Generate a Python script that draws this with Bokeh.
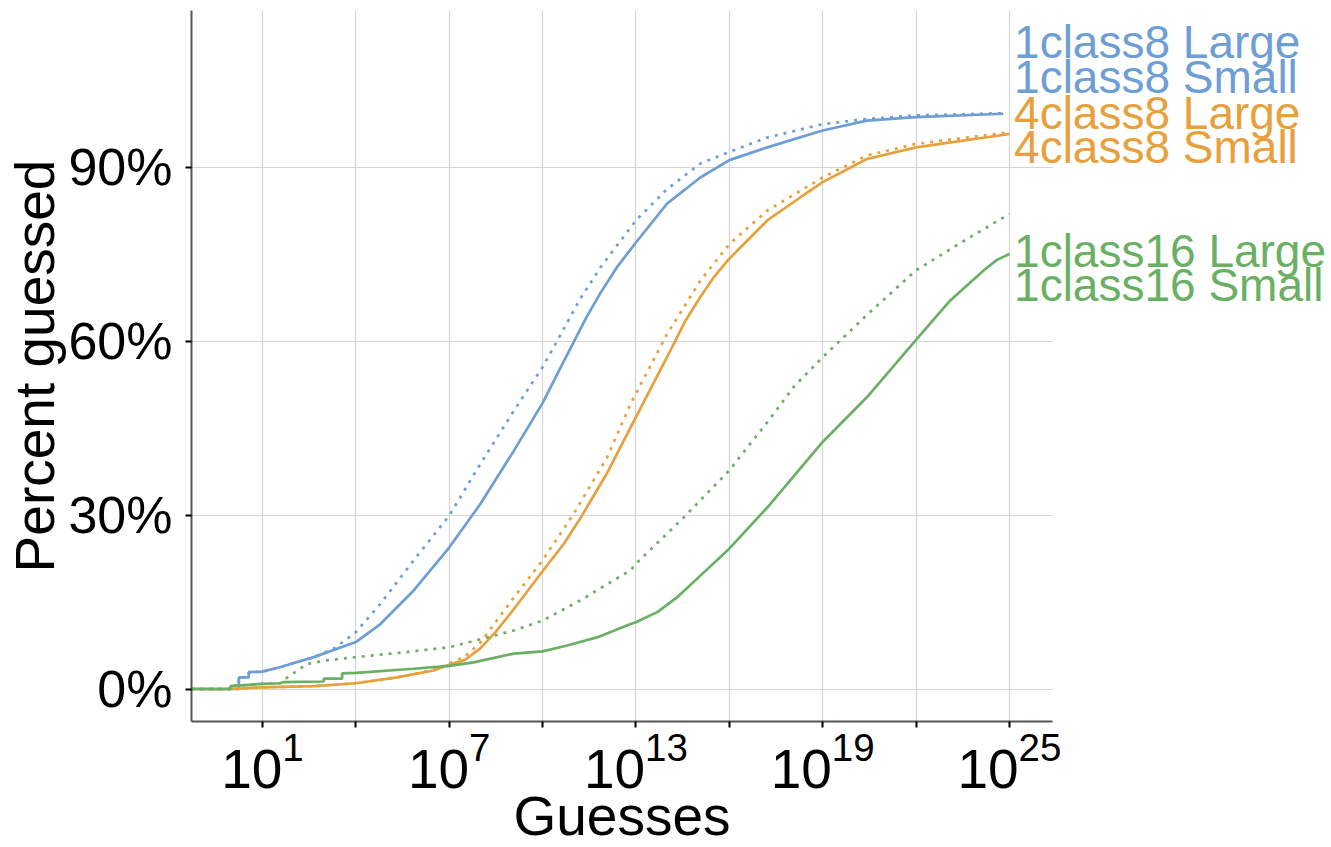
import numpy as np
from bokeh.plotting import figure
from bokeh.models import Range1d, FixedTicker, Label, BoxAnnotation, Title
from bokeh.embed import file_html
from bokeh.resources import INLINE

# ---- data: x given as log10(guesses), y as percent guessed ----
blue_small_exp = [-1.28, 0.24, 0.24, 0.56, 0.56, 1.0, 1.58, 2.65, 4.0, 4.79, 5.86, 7.0, 8.0, 9.08,
                  10.0, 10.5, 11.0, 11.4, 11.86, 12.4, 13.0, 14.0, 15.07, 16.0, 17.22, 19.0, 20.42,
                  22.0, 24.8]
blue_small_pct = [0, 0, 2.0, 2.0, 2.9, 3.0, 3.8, 5.5, 8.1, 11.2, 17.0, 24.4, 31.9, 41.1,
                  49.3, 54.6, 59.8, 64.0, 68.3, 72.8, 77.0, 83.7, 88.2, 91.2, 93.4, 96.3, 98.0,
                  98.6, 99.2]

blue_large_exp = [-1.28, 0.24, 0.24, 0.56, 0.56, 1.0, 1.58, 2.65, 3.3, 4.0, 4.79, 5.86, 7.0, 8.0,
                  9.08, 10.0, 10.57, 11.2, 11.86, 13.0, 14.0, 15.07, 16.0, 17.22, 19.0, 20.42,
                  22.0, 24.8]
blue_large_pct = [0, 0, 2.0, 2.0, 2.9, 3.0, 3.8, 5.5, 7.0, 9.8, 14.7, 22.2, 29.9, 38.8,
                  48.0, 55.5, 61.0, 67.2, 72.7, 80.8, 86.2, 90.6, 92.6, 95.1, 97.4, 98.3,
                  98.9, 99.3]

orange_small_exp = [-1.28, 0.0, 1.0, 2.65, 4.0, 5.32, 6.5, 7.0, 7.5, 8.0, 8.5, 9.08, 10.0, 10.68,
                    11.22, 12.08, 12.83, 14.11, 14.6, 15.07, 15.5, 16.0, 17.22, 18.29, 19.0,
                    20.42, 22.0, 25.0]
orange_small_pct = [0, 0, 0.3, 0.5, 1.0, 2.0, 3.2, 4.2, 5.0, 7.0, 9.9, 13.8, 20.3, 25.0,
                    29.5, 37.3, 45.1, 58.4, 63.6, 67.6, 71.0, 74.2, 80.8, 84.8, 87.4,
                    91.4, 93.4, 95.7]

orange_large_exp = [-1.28, 0.0, 1.0, 2.65, 4.0, 5.32, 6.5, 7.0, 7.5, 8.0, 9.08, 10.0, 11.0, 12.08,
                    12.83, 14.0, 15.07, 16.0, 17.22, 19.0, 20.42, 22.0, 25.0]
orange_large_pct = [0, 0, 0.3, 0.5, 1.0, 2.0, 3.3, 4.4, 5.6, 8.0, 15.8, 22.2, 30.2, 40.0,
                    49.2, 61.2, 70.4, 76.7, 82.5, 88.2, 92.0, 94.0, 96.0]

green_small_exp = [-1.28, -0.03, -0.03, 1.0, 1.55, 1.68, 2.97, 2.97, 3.56, 3.56, 4.0, 5.86, 7.0, 7.78,
                   9.08, 10.0, 10.79, 11.75, 12.83, 13.0, 13.7, 14.32, 15.2, 16.0, 17.22, 19.0,
                   20.42, 22.0, 23.1, 24.18, 24.6, 25.0]
green_small_pct = [0, 0, 0.5, 0.9, 1.0, 1.2, 1.3, 1.8, 1.8, 2.7, 2.8, 3.5, 4.0, 4.6,
                   6.1, 6.5, 7.5, 8.9, 11.2, 11.5, 13.3, 15.8, 20.2, 24.2, 31.3, 42.6,
                   50.3, 60.2, 67.0, 72.2, 74.0, 75.0]

green_large_exp = [-1.28, -0.03, -0.03, 1.0, 1.58, 1.8, 2.43, 3.0, 4.0, 5.5, 7.0, 9.08, 10.0, 11.22,
                   12.83, 13.0, 14.54, 16.0, 17.22, 18.1, 19.0, 20.42, 22.0, 23.64, 25.0]
green_large_pct = [0, 0, 0.5, 0.9, 1.0, 2.0, 4.3, 4.9, 5.5, 6.3, 7.2, 10.1, 11.8, 15.3,
                   20.5, 21.6, 29.6, 37.7, 46.0, 52.3, 57.2, 64.5, 72.2, 77.6, 81.9]

series_names = ["1class8 Large", "1class8 Small", "4class8 Large", "4class8 Small",
                "1class16 Large", "1class16 Small"]
series_exp = [blue_large_exp, blue_small_exp, orange_large_exp, orange_small_exp,
              green_large_exp, green_small_exp]
series_pct = [blue_large_pct, blue_small_pct, orange_large_pct, orange_small_pct,
              green_large_pct, green_small_pct]

y_ticks = [0, 30, 60, 90]
y_tick_labels = ["0%", "30%", "60%", "90%"]
x_major_exp = [1, 7, 13, 19, 25]
x_minor_exp = [4, 10, 16, 22]

# ---- styles / layout ----
BLUE, ORANGE, GREEN = "#6E9ED6", "#E8A03C", "#6AB064"
colors = [BLUE, BLUE, ORANGE, ORANGE, GREEN, GREEN]
dashes = ["3 6", "solid", "3 6", "solid", "3 6", "solid"]
label_pos_y = [111.5, 105.5, 99.4, 93.4, 75.5, 69.6]
label_exp_x = 25.15
FONT = "Liberation Sans"
GRID = "#d5d5d5"
X_LO, X_AXIS_HI, X_FRAME_HI = -1.28, 26.39, 35.35

p = figure(width=1331, height=847, x_axis_type="log",
           x_range=Range1d(10 ** X_LO, 10 ** X_FRAME_HI), y_range=Range1d(-5.6, 117.0),
           output_backend="svg", toolbar_location=None,
           min_border_left=191, min_border_right=0, min_border_top=10, min_border_bottom=126)
p.outline_line_color = None
p.background_fill_color = "white"

for exps, pcts, c, d in zip(series_exp, series_pct, colors, dashes):
    p.line(10 ** np.array(exps, dtype=float), pcts, line_color=c, line_width=2.7, line_dash=d)

# blank out the grid to the right of the plotting area (label zone)
p.add_layout(BoxAnnotation(left=10 ** X_AXIS_HI, fill_color="white", fill_alpha=1.0,
                           line_color=None, level="underlay"))

for name, c, yv in zip(series_names, colors, label_pos_y):
    p.add_layout(Label(x=10 ** label_exp_x, y=yv, text=name, text_color=c,
                       text_font=FONT, text_font_size="46px", text_baseline="alphabetic",
                       text_align="left"))

# axes
p.xaxis.ticker = FixedTicker(ticks=[10.0 ** e for e in x_major_exp],
                             minor_ticks=[10.0 ** e for e in x_minor_exp])
p.xaxis.bounds = (10 ** X_LO, 10 ** X_AXIS_HI)
p.yaxis.ticker = FixedTicker(ticks=y_ticks)
p.yaxis.major_label_overrides = {t: l for t, l in zip(y_ticks, y_tick_labels)}

for ax in (p.xaxis[0], p.yaxis[0]):
    ax.axis_line_color = "#555555"
    ax.axis_line_width = 2
    ax.major_tick_line_color = "black"
    ax.major_tick_line_width = 2
    ax.major_tick_out = 6
    ax.major_tick_in = 0
    ax.major_label_text_font = FONT
    ax.major_label_text_color = "black"
    ax.axis_label_text_font = FONT
    ax.axis_label_text_font_style = "normal"
    ax.axis_label_text_color = "black"
    ax.axis_label_text_font_size = "55px"

p.xaxis.minor_tick_line_color = "black"
p.xaxis.minor_tick_line_width = 2
p.xaxis.minor_tick_out = 6
p.xaxis.minor_tick_in = 0
p.yaxis.minor_tick_line_color = None

p.xaxis.major_label_text_font_size = "55px"
p.yaxis.major_label_text_font_size = "52px"
p.xaxis.major_label_standoff = 4
p.yaxis.major_label_standoff = 13
p.yaxis.axis_label = "Percent guessed"
p.yaxis.axis_label_standoff = -1

# x-axis title, centred under the plotting area (not the label zone)
xt = Title(text="Guesses", align="left", offset=322, text_font=FONT, text_font_size="55px",
           text_font_style="normal", text_color="black")
try:
    xt.standoff = -16
except Exception:
    xt.standoff = 0
p.add_layout(xt, "below")

p.xgrid.grid_line_color = GRID
p.xgrid.minor_grid_line_color = GRID
p.ygrid.grid_line_color = GRID
p.xgrid.grid_line_width = 1.2
p.xgrid.minor_grid_line_width = 1.2
p.ygrid.grid_line_width = 1.2

open("out.html", "w").write(file_html(p, INLINE))
